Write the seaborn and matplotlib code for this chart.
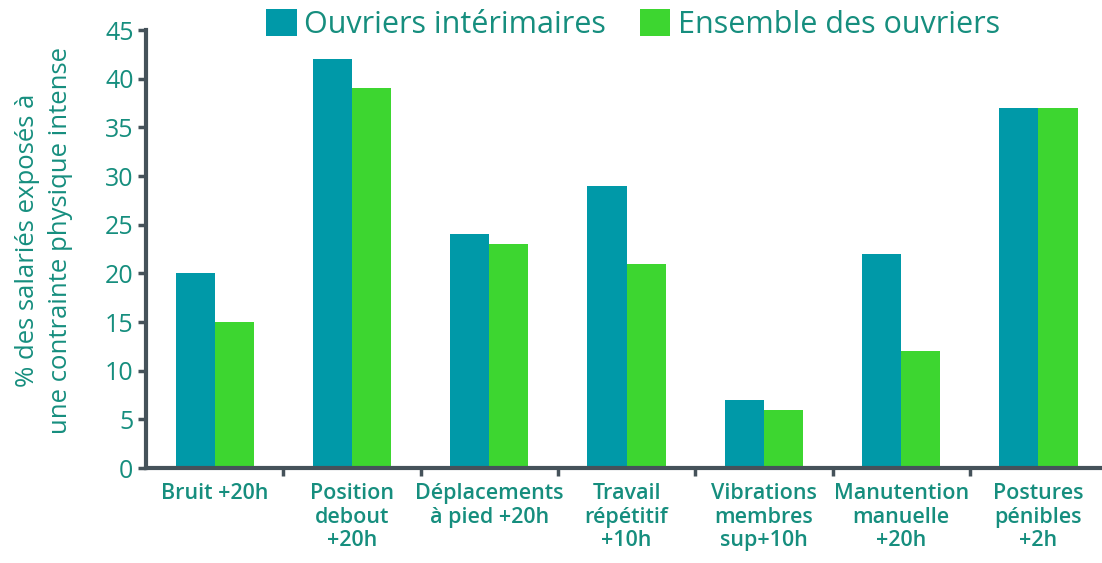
import numpy as np
import pandas as pd
import seaborn as sns
import matplotlib.pyplot as plt

# values
categories = ['Bruit +20h', 'Position\ndebout\n+20h', 'Déplacements\nà pied +20h',
              'Travail\nrépétitif\n+10h', 'Vibrations\nmembres\nsup+10h',
              'Manutention\nmanuelle\n+20h', 'Postures\npénibles\n+2h']
interimaires = [20, 42, 24, 29, 7, 22, 37]
ensemble = [15, 39, 23, 21, 6, 12, 37]
series = ['Ouvriers intérimaires', 'Ensemble des ouvriers']

df = pd.DataFrame({
    'categorie': categories * 2,
    'valeur': interimaires + ensemble,
    'serie': [series[0]] * len(categories) + [series[1]] * len(categories),
})

teal = '#0099A8'
green = '#3DD630'
text_col = '#168E7E'
spine_col = '#45525A'

sns.set_style('white')
plt.rcParams['font.family'] = ['Open Sans', 'DejaVu Sans']

fig = plt.figure(figsize=(11.02, 5.63), dpi=100)
ax = fig.add_axes([146 / 1102, 95 / 563, 956 / 1102, 438 / 563])

sns.barplot(data=df, x='categorie', y='valeur', hue='serie',
            palette=[teal, green], width=0.57, saturation=1,
            edgecolor='none', ax=ax)

ax.set_ylim(0, 45)
ax.set_xlim(-0.5, -0.5 + 956 / 137.3)
ax.set_yticks(range(0, 46, 5))
ax.tick_params(axis='y', labelsize=18, labelcolor=text_col, color=spine_col,
               length=6, width=2.5, direction='out', left=True, pad=3)
ax.tick_params(axis='x', which='major', length=0, labelsize=15.5,
               labelcolor=text_col, pad=11)
ax.set_xticks(np.arange(0.5, 6.5, 1), minor=True)
ax.tick_params(axis='x', which='minor', length=6, width=2.5, color=spine_col,
               bottom=True, direction='out')
for lab in ax.get_xticklabels():
    lab.set_fontweight('semibold')
    lab.set_linespacing(1.15)

for side in ['top', 'right']:
    ax.spines[side].set_visible(False)
for side in ['left', 'bottom']:
    ax.spines[side].set_color(spine_col)
    ax.spines[side].set_linewidth(3)

ax.set_xlabel('')
ax.set_ylabel('% des salariés exposés à\nune contrainte physique intense',
              fontsize=18.5, color=text_col, linespacing=1.45)
ax.yaxis.set_label_coords(-0.076, 0.52)

ax.legend(loc='upper left', bbox_to_anchor=(108 / 956, 1.075), ncol=2,
          frameon=False, fontsize=22, handlelength=1.0, handleheight=0.95,
          handletextpad=0.25, columnspacing=1.1, borderaxespad=0,
          labelcolor=text_col)

fig.savefig('out.png', dpi=100)
